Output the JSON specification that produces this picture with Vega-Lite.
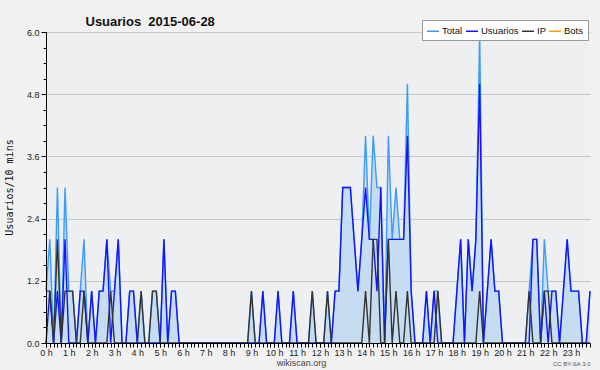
{
  "$schema": "https://vega.github.io/schema/vega-lite/v6.json",
  "width": 544,
  "height": 311,
  "autosize": {"type": "none"},
  "padding": {"left": 46, "top": 32, "right": 10, "bottom": 27},
  "background": "#f1f1f1",
  "config": {"view": {"fill": "#edeff1", "stroke": null}, "font": "Liberation Sans"},
  "data": {"values": [
    {"i":0,"T":1,"U":0,"IP":1},{"i":1,"T":2,"U":1,"IP":1},{"i":2,"T":0,"U":0,"IP":0},{"i":3,"T":3,"U":1,"IP":2},
    {"i":4,"T":0,"U":0,"IP":0},{"i":5,"T":3,"U":2,"IP":1},{"i":6,"T":1,"U":0,"IP":1},{"i":7,"T":1,"U":0,"IP":1},
    {"i":8,"T":0,"U":0,"IP":0},{"i":9,"T":1,"U":1,"IP":0},{"i":10,"T":2,"U":1,"IP":1},{"i":11,"T":0,"U":0,"IP":0},
    {"i":12,"T":1,"U":1,"IP":0},{"i":13,"T":0,"U":0,"IP":0},{"i":14,"T":1,"U":1,"IP":0},{"i":15,"T":1,"U":1,"IP":0},
    {"i":16,"T":2,"U":2,"IP":0},{"i":17,"T":1,"U":0,"IP":1},{"i":18,"T":1,"U":1,"IP":0},{"i":19,"T":2,"U":2,"IP":0},
    {"i":20,"T":0,"U":0,"IP":0},{"i":21,"T":0,"U":0,"IP":0},{"i":22,"T":1,"U":1,"IP":0},{"i":23,"T":1,"U":1,"IP":0},
    {"i":24,"T":0,"U":0,"IP":0},{"i":25,"T":1,"U":0,"IP":1},{"i":26,"T":0,"U":0,"IP":0},{"i":27,"T":0,"U":0,"IP":0},
    {"i":28,"T":1,"U":0,"IP":1},{"i":29,"T":1,"U":0,"IP":1},{"i":30,"T":0,"U":0,"IP":0},{"i":31,"T":2,"U":2,"IP":0},
    {"i":32,"T":0,"U":0,"IP":0},{"i":33,"T":1,"U":1,"IP":0},{"i":34,"T":1,"U":1,"IP":0},{"i":35,"T":0,"U":0,"IP":0},
    {"i":36,"T":0,"U":0,"IP":0},{"i":37,"T":0,"U":0,"IP":0},{"i":38,"T":0,"U":0,"IP":0},{"i":39,"T":0,"U":0,"IP":0},
    {"i":40,"T":0,"U":0,"IP":0},{"i":41,"T":0,"U":0,"IP":0},{"i":42,"T":0,"U":0,"IP":0},{"i":43,"T":0,"U":0,"IP":0},
    {"i":44,"T":0,"U":0,"IP":0},{"i":45,"T":0,"U":0,"IP":0},{"i":46,"T":0,"U":0,"IP":0},{"i":47,"T":0,"U":0,"IP":0},
    {"i":48,"T":0,"U":0,"IP":0},{"i":49,"T":0,"U":0,"IP":0},{"i":50,"T":0,"U":0,"IP":0},{"i":51,"T":0,"U":0,"IP":0},
    {"i":52,"T":0,"U":0,"IP":0},{"i":53,"T":0,"U":0,"IP":0},{"i":54,"T":1,"U":0,"IP":1},{"i":55,"T":0,"U":0,"IP":0},
    {"i":56,"T":0,"U":0,"IP":0},{"i":57,"T":1,"U":1,"IP":0},{"i":58,"T":0,"U":0,"IP":0},{"i":59,"T":0,"U":0,"IP":0},
    {"i":60,"T":0,"U":0,"IP":0},{"i":61,"T":1,"U":1,"IP":0},{"i":62,"T":0,"U":0,"IP":0},{"i":63,"T":0,"U":0,"IP":0},
    {"i":64,"T":0,"U":0,"IP":0},{"i":65,"T":1,"U":1,"IP":0},{"i":66,"T":0,"U":0,"IP":0},{"i":67,"T":0,"U":0,"IP":0},
    {"i":68,"T":0,"U":0,"IP":0},{"i":69,"T":0,"U":0,"IP":0},{"i":70,"T":1,"U":0,"IP":1},{"i":71,"T":0,"U":0,"IP":0},
    {"i":72,"T":0,"U":0,"IP":0},{"i":73,"T":0,"U":0,"IP":0},{"i":74,"T":1,"U":0,"IP":1},{"i":75,"T":0,"U":0,"IP":0},
    {"i":76,"T":1,"U":1,"IP":0},{"i":77,"T":1,"U":1,"IP":0},{"i":78,"T":3,"U":3,"IP":0},{"i":79,"T":3,"U":3,"IP":0},
    {"i":80,"T":3,"U":3,"IP":0},{"i":81,"T":2,"U":2,"IP":0},{"i":82,"T":1,"U":1,"IP":0},{"i":83,"T":2,"U":2,"IP":0},
    {"i":84,"T":4,"U":3,"IP":1},{"i":85,"T":2,"U":2,"IP":0},{"i":86,"T":4,"U":2,"IP":2},{"i":87,"T":3,"U":1,"IP":2},
    {"i":88,"T":3,"U":3,"IP":0},{"i":89,"T":0,"U":0,"IP":0},{"i":90,"T":4,"U":2,"IP":2},{"i":91,"T":2,"U":2,"IP":0},
    {"i":92,"T":3,"U":2,"IP":1},{"i":93,"T":2,"U":2,"IP":0},{"i":94,"T":2,"U":2,"IP":0},{"i":95,"T":5,"U":4,"IP":1},
    {"i":96,"T":1,"U":1,"IP":0},{"i":97,"T":0,"U":0,"IP":0},{"i":98,"T":0,"U":0,"IP":0},{"i":99,"T":0,"U":0,"IP":0},
    {"i":100,"T":1,"U":1,"IP":0},{"i":101,"T":0,"U":0,"IP":0},{"i":102,"T":1,"U":1,"IP":0},{"i":103,"T":1,"U":0,"IP":1},
    {"i":104,"T":0,"U":0,"IP":0},{"i":105,"T":0,"U":0,"IP":0},{"i":106,"T":0,"U":0,"IP":0},{"i":107,"T":0,"U":0,"IP":0},
    {"i":108,"T":1,"U":1,"IP":0},{"i":109,"T":2,"U":2,"IP":0},{"i":110,"T":0,"U":0,"IP":0},{"i":111,"T":2,"U":2,"IP":0},
    {"i":112,"T":1,"U":1,"IP":0},{"i":113,"T":2,"U":2,"IP":0},{"i":114,"T":6,"U":5,"IP":1},{"i":115,"T":0,"U":0,"IP":0},
    {"i":116,"T":1,"U":1,"IP":0},{"i":117,"T":2,"U":2,"IP":0},{"i":118,"T":1,"U":1,"IP":0},{"i":119,"T":1,"U":1,"IP":0},
    {"i":120,"T":0,"U":0,"IP":0},{"i":121,"T":0,"U":0,"IP":0},{"i":122,"T":0,"U":0,"IP":0},{"i":123,"T":0,"U":0,"IP":0},
    {"i":124,"T":0,"U":0,"IP":0},{"i":125,"T":0,"U":0,"IP":0},{"i":126,"T":0,"U":0,"IP":0},{"i":127,"T":1,"U":0,"IP":1},
    {"i":128,"T":2,"U":2,"IP":0},{"i":129,"T":2,"U":2,"IP":0},{"i":130,"T":0,"U":0,"IP":0},{"i":131,"T":2,"U":1,"IP":1},
    {"i":132,"T":1,"U":0,"IP":1},{"i":133,"T":1,"U":1,"IP":0},{"i":134,"T":1,"U":1,"IP":0},{"i":135,"T":0,"U":0,"IP":0},
    {"i":136,"T":1,"U":1,"IP":0},{"i":137,"T":2,"U":2,"IP":0},{"i":138,"T":1,"U":1,"IP":0},{"i":139,"T":1,"U":1,"IP":0},
    {"i":140,"T":1,"U":1,"IP":0},{"i":141,"T":0,"U":0,"IP":0},{"i":142,"T":0,"U":0,"IP":0},{"i":143,"T":1,"U":1,"IP":0}
  ]},
  "resolve": {"axis": {"x": "independent", "y": "independent"}},
  "layer": [
    {
      "mark": {"type": "area", "color": "#c6dcf0", "interpolate": "linear"},
      "encoding": {
        "x": {"field": "i", "type": "quantitative", "scale": {"domain": [0, 143], "nice": false, "zero": false},
          "axis": {"orient": "bottom", "values": [0,6,12,18,24,30,36,42,48,54,60,66,72,78,84,90,96,102,108,114,120,126,132,138],
            "labelExpr": "(datum.value / 6) + ' h'", "labelFlush": false, "labelOverlap": false, "labelFont": "Liberation Sans", "labelFontSize": 9, "labelColor": "#222222", "labelPadding": 1,
            "tickSize": 4, "tickColor": "#000000", "domainColor": "#000000", "grid": false, "zindex": 1,
            "title": "wikiscan.org", "titleFont": "Liberation Sans", "titleFontSize": 9, "titleFontWeight": "normal", "titleColor": "#444444",
            "titleX": 255, "titleY": 22, "titleAlign": "center", "titleBaseline": "alphabetic"}},
        "y": {"field": "T", "type": "quantitative", "scale": {"domain": [0, 6], "nice": false},
          "axis": {"orient": "left", "values": [1.2, 2.4, 3.6, 4.8, 6.0], "grid": true, "gridColor": "#c8c8c8", "gridWidth": 1, "labels": false, "ticks": false, "domain": false, "title": null, "zindex": 0}}
      }
    },
    {
      "mark": {"type": "line", "strokeWidth": 1.4, "interpolate": "linear"},
      "encoding": {
        "x": {"field": "i", "type": "quantitative", "axis": null},
        "y": {"field": "T", "type": "quantitative",
          "axis": {"orient": "left", "values": [0, 1.2, 2.4, 3.6, 4.8, 6.0], "format": ".1f", "grid": false, "tickSize": 5, "tickColor": "#000000", "domainColor": "#000000",
            "labelFont": "Liberation Sans", "labelFontSize": 9, "labelColor": "#222222", "labelPadding": 2, "zindex": 1,
            "title": "Usuarios/10 mins", "titleFont": "DejaVu Sans Mono", "titleFontSize": 10, "titleFontWeight": "normal", "titleColor": "#111111",
            "titleX": -37, "titleY": 155, "titleAlign": "center", "titleBaseline": "middle"}},
        "color": {"datum": "Total", "type": "nominal",
          "scale": {"domain": ["Total", "Usuarios", "IP", "Bots"], "range": ["#3d9bff", "#1414ff", "#333333", "#ffa000"]},
          "legend": {"orient": "none", "legendX": 376, "legendY": -12, "direction": "horizontal", "title": null,
            "symbolType": "stroke", "symbolSize": 144, "symbolStrokeWidth": 1.5, "labelFont": "Liberation Sans", "labelFontSize": 9.5, "labelColor": "#111111",
            "labelOffset": 2, "columnPadding": 0, "padding": 4, "fillColor": "#ffffff", "strokeColor": "#999999"}}
      }
    },
    {
      "mark": {"type": "line", "strokeWidth": 1.4, "interpolate": "linear"},
      "encoding": {
        "x": {"field": "i", "type": "quantitative",
          "axis": {"orient": "bottom", "values": [0,1,2,3,4,5,6,7,8,9,10,11,12,13,14,15,16,17,18,19,20,21,22,23,24,25,26,27,28,29,30,31,32,33,34,35,36,37,38,39,40,41,42,43,44,45,46,47,48,49,50,51,52,53,54,55,56,57,58,59,60,61,62,63,64,65,66,67,68,69,70,71,72,73,74,75,76,77,78,79,80,81,82,83,84,85,86,87,88,89,90,91,92,93,94,95,96,97,98,99,100,101,102,103,104,105,106,107,108,109,110,111,112,113,114,115,116,117,118,119,120,121,122,123,124,125,126,127,128,129,130,131,132,133,134,135,136,137,138,139,140,141,142,143],
            "labels": false, "domain": false, "grid": false, "tickSize": 4, "tickColor": "#000000", "zindex": 1,
            "title": "CC BY-SA 3.0", "titleFont": "Liberation Sans", "titleFontSize": 6, "titleFontWeight": "normal", "titleColor": "#555555",
            "titleX": 544, "titleY": 22, "titleAlign": "right", "titleBaseline": "alphabetic"}},
        "y": {"field": "U", "type": "quantitative",
          "axis": {"orient": "left", "values": [0,0.3,0.6,0.9,1.2,1.5,1.8,2.1,2.4,2.7,3.0,3.3,3.6,3.9,4.2,4.5,4.8,5.1,5.4,5.7,6.0],
            "labels": false, "domain": false, "grid": false, "tickSize": 3, "tickColor": "#000000", "title": null, "zindex": 1}},
        "color": {"datum": "Usuarios", "type": "nominal"}
      }
    },
    {
      "mark": {"type": "line", "strokeWidth": 1.4, "interpolate": "linear"},
      "encoding": {
        "x": {"field": "i", "type": "quantitative",
          "axis": {"orient": "top", "labels": false, "ticks": false, "domain": false, "grid": false,
            "title": "Usuarios\u00a0\u00a02015-06-28", "titleFont": "Liberation Sans", "titleFontSize": 13, "titleFontWeight": "bold", "titleColor": "#111111",
            "titleX": 39, "titleY": -7, "titleAlign": "left", "titleBaseline": "alphabetic"}},
        "y": {"field": "IP", "type": "quantitative", "axis": null},
        "color": {"datum": "IP", "type": "nominal"}
      }
    }
  ]
}
